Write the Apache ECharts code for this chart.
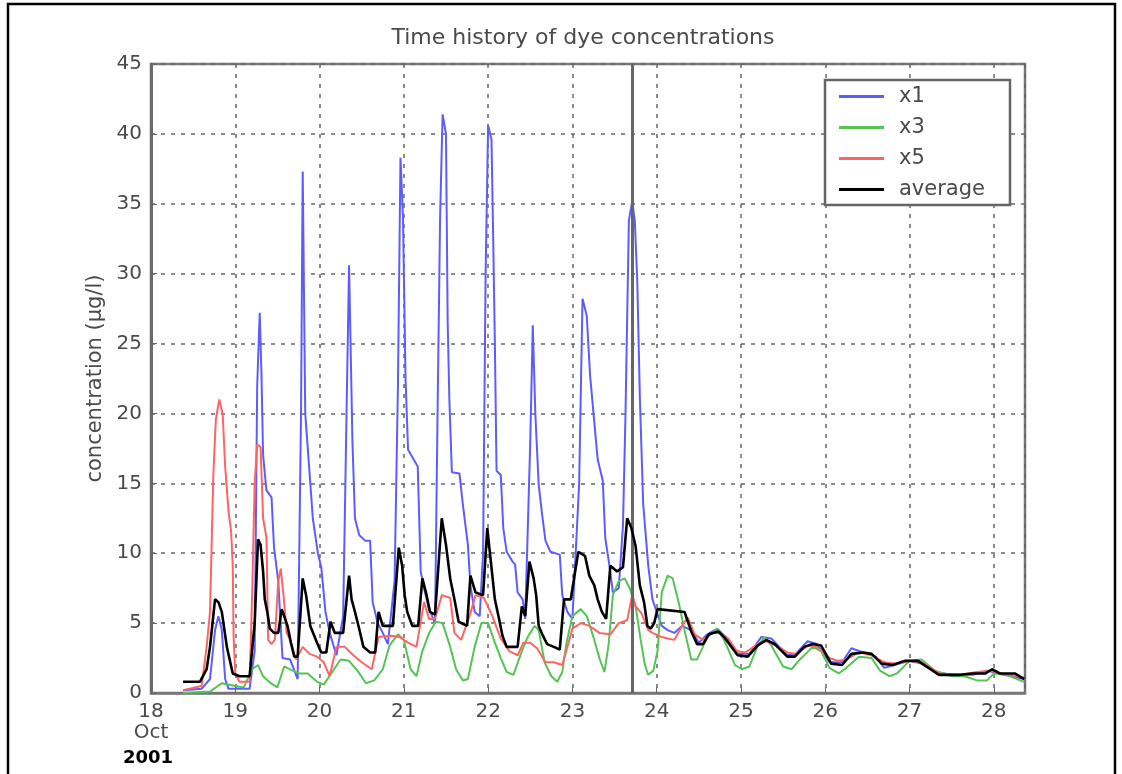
<!DOCTYPE html>
<html>
<head>
<meta charset="utf-8">
<script src="https://cdn.jsdelivr.net/npm/echarts@6/dist/echarts.min.js"></script>
<style>
html,body{margin:0;padding:0;background:#fff;}
#chart{width:1122px;height:774px;}
</style>
</head>
<body>
<div id="chart"></div>
<script>
// ---- data (day of October 2001, concentration µg/l) ----
const titleText = 'Time history of dye concentrations';
const yAxisName = 'concentration (µg/l)';
const seriesNames = ['x1', 'x3', 'x5', 'average'];
const yTicks = [0, 5, 10, 15, 20, 25, 30, 35, 40, 45];
const xTicks = [18, 19, 20, 21, 22, 23, 24, 25, 26, 27, 28];
const markerDay = 23.71;

const x1Time = [18.38,18.60,18.70,18.76,18.80,18.84,18.88,18.92,19.17,19.23,19.26,19.29,19.31,19.33,19.37,19.43,19.46,19.51,19.56,19.65,19.74,19.78,19.80,19.83,19.87,19.92,19.98,20.02,20.07,20.12,20.20,20.28,20.32,20.35,20.39,20.42,20.47,20.54,20.60,20.63,20.69,20.75,20.81,20.89,20.93,20.96,20.99,21.02,21.05,21.165,21.20,21.25,21.30,21.37,21.40,21.43,21.46,21.50,21.52,21.54,21.57,21.66,21.70,21.76,21.79,21.84,21.90,21.94,21.97,22.00,22.04,22.06,22.08,22.10,22.15,22.18,22.22,22.29,22.32,22.35,22.41,22.44,22.50,22.53,22.56,22.60,22.64,22.68,22.74,22.85,22.88,22.94,23.00,23.08,23.12,23.17,23.21,23.30,23.36,23.39,23.44,23.48,23.55,23.60,23.63,23.67,23.71,23.74,23.77,23.80,23.84,23.90,23.95,24.00,24.06,24.13,24.21,24.30,24.41,24.50,24.60,24.72,24.82,24.96,25.10,25.24,25.36,25.55,25.65,25.79,25.90,26.05,26.20,26.31,26.45,26.60,26.70,26.82,27.00,27.14,27.30,27.50,27.75,27.92,28.05,28.36];
const x1Val  = [0.2,0.3,1.0,4.5,5.5,4.5,1.0,0.3,0.3,3,22,27.2,23,17,14.5,14,10.4,8,2.5,2.4,1.0,20,37.3,20,16.7,12.5,10,9,5.8,4.3,2.7,5.5,20,30.6,18,12.5,11.3,10.9,10.9,6.5,5.0,4.3,3.5,8,22,38.3,34,22.5,17.4,16.2,8.7,7.2,6,5,20,34,41.4,40,26.5,21,15.8,15.7,13.5,10.6,7.7,5.8,5.5,10,30,40.6,39.6,32.6,25,15.9,15.6,11.8,10.1,9.4,9.2,7.2,6.7,5.3,18,26.3,20,14.9,12.8,10.9,10.1,9.9,7,5.8,5.3,15,28.2,27,22.7,16.7,15.2,11.1,9.1,7.2,7.5,12,20,33.8,35.2,33.8,29.4,21.2,13.5,9.1,6.7,5.8,4.8,4.5,4.3,4.8,4.5,3.6,4.2,4.6,4.0,2.8,2.8,4.0,3.9,2.7,2.8,3.7,3.5,2.2,2.2,3.2,2.9,2.6,1.8,2.0,2.3,2.1,1.5,1.3,1.3,1.6,1.4,1.0];

const x3Time = [18.38,18.70,18.84,19.00,19.10,19.20,19.27,19.33,19.42,19.50,19.58,19.68,19.76,19.86,19.97,20.05,20.15,20.25,20.35,20.45,20.55,20.65,20.75,20.83,20.93,21.00,21.08,21.15,21.22,21.30,21.38,21.46,21.55,21.62,21.70,21.76,21.84,21.92,22.00,22.08,22.15,22.22,22.30,22.40,22.47,22.55,22.60,22.67,22.75,22.82,22.88,22.93,23.00,23.10,23.17,23.25,23.32,23.38,23.43,23.48,23.55,23.62,23.68,23.75,23.81,23.86,23.90,23.96,24.01,24.06,24.13,24.19,24.26,24.33,24.41,24.48,24.60,24.72,24.80,24.93,25.01,25.10,25.20,25.28,25.36,25.50,25.60,25.70,25.85,25.95,26.05,26.16,26.25,26.40,26.55,26.65,26.76,26.85,27.00,27.14,27.30,27.50,27.65,27.80,27.92,28.00,28.15,28.36];
const x3Val  = [0,0.1,0.7,0.5,0.4,1.7,2.0,1.2,0.7,0.4,1.9,1.6,1.4,1.4,0.8,0.6,1.5,2.4,2.3,1.6,0.7,0.9,1.7,3.4,4.2,3.8,1.7,1.2,3.0,4.3,5.1,5.0,3.3,1.7,0.9,1.0,3.3,5.0,5.0,3.6,2.5,1.5,1.3,3.0,4.0,4.8,4.5,2.2,1.2,0.8,1.5,3.6,5.5,6.0,5.5,4.0,2.5,1.5,3.5,7.0,8.0,8.2,7.5,6.2,3.8,2.0,1.3,1.6,3.0,7.2,8.4,8.2,6.5,4.5,2.4,2.4,4.0,4.6,3.8,2.0,1.7,1.9,3.4,4.0,3.4,1.9,1.7,2.4,3.3,3.0,1.8,1.4,1.8,2.6,2.5,1.6,1.2,1.4,2.3,2.4,1.6,1.2,1.2,0.9,0.9,1.4,1.3,0.8];

const x5Time = [18.38,18.60,18.66,18.70,18.74,18.77,18.81,18.85,18.88,18.92,18.95,18.97,18.98,19.00,19.05,19.17,19.20,19.23,19.26,19.30,19.33,19.37,19.39,19.43,19.47,19.51,19.54,19.58,19.61,19.65,19.72,19.80,19.88,19.97,20.05,20.12,20.20,20.30,20.40,20.50,20.62,20.70,20.85,20.95,21.05,21.15,21.24,21.30,21.37,21.45,21.55,21.60,21.68,21.78,21.85,21.95,22.05,22.15,22.25,22.35,22.42,22.50,22.58,22.68,22.78,22.88,23.00,23.10,23.20,23.32,23.45,23.55,23.65,23.71,23.75,23.82,23.90,23.95,24.06,24.13,24.21,24.30,24.37,24.45,24.55,24.65,24.75,24.85,24.95,25.05,25.20,25.30,25.45,25.55,25.65,25.80,25.90,26.05,26.15,26.25,26.40,26.55,26.70,26.85,27.00,27.15,27.35,27.60,27.80,27.95,28.10,28.36];
const x5Val  = [0.2,0.5,3.3,5.8,15.7,19.6,21.0,20,16.2,13,11.6,9.1,4,1.4,0.8,0.8,7,15,17.8,17.6,12.5,11.1,3.8,3.5,3.8,8.0,8.9,6.5,4.3,3.8,2.4,3.3,2.8,2.6,2.2,1.2,3.3,3.3,2.7,2.2,1.7,4.0,4.1,4.0,3.6,3.3,6.5,5.3,5.3,7.0,6.8,4.3,3.8,5.5,7.0,6.8,5.5,3.9,3.0,2.7,3.6,3.6,3.2,2.2,2.2,2.0,4.6,5.0,4.8,4.3,4.2,5.0,5.2,7.0,6.2,5.7,4.5,4.3,4.0,3.9,3.8,4.8,5.4,4.2,3.8,4.3,4.3,3.9,3.0,2.9,3.5,3.7,3.3,2.9,2.8,3.4,3.3,2.5,2.3,2.4,2.9,2.7,2.2,2.1,2.3,2.2,1.4,1.3,1.5,1.6,1.4,1.1];

const avgTime = [18.38,18.58,18.66,18.70,18.76,18.80,18.84,18.90,18.97,19.05,19.17,19.23,19.27,19.30,19.33,19.35,19.38,19.41,19.46,19.51,19.55,19.58,19.62,19.66,19.70,19.74,19.80,19.84,19.89,19.97,20.02,20.08,20.13,20.18,20.28,20.35,20.38,20.42,20.47,20.52,20.60,20.66,20.70,20.75,20.87,20.94,20.98,21.01,21.04,21.10,21.17,21.22,21.27,21.31,21.37,21.45,21.50,21.55,21.60,21.65,21.75,21.79,21.85,21.94,21.99,22.02,22.08,22.13,22.17,22.22,22.35,22.40,22.44,22.49,22.54,22.57,22.60,22.65,22.70,22.78,22.85,22.90,22.98,23.07,23.15,23.20,23.26,23.30,23.35,23.40,23.45,23.53,23.60,23.65,23.70,23.75,23.80,23.85,23.89,23.93,23.97,24.01,24.33,24.41,24.48,24.55,24.62,24.73,24.80,24.96,25.08,25.20,25.30,25.40,25.55,25.64,25.75,25.85,25.95,26.07,26.20,26.31,26.45,26.55,26.67,26.80,26.94,27.10,27.25,27.35,27.60,27.75,27.90,27.98,28.07,28.25,28.36];
const avgVal  = [0.8,0.8,1.7,3.3,6.7,6.5,5.8,3.3,1.4,1.2,1.2,5,11.0,10.6,8.7,6.7,5.8,4.6,4.3,4.3,6.0,5.5,4.8,3.6,2.6,2.6,8.2,7.0,4.8,3.6,2.9,2.9,5.1,4.3,4.3,8.4,6.7,5.8,4.6,3.3,2.9,2.9,5.8,4.8,4.8,10.4,9.1,7.0,5.8,4.8,4.8,8.2,7.0,5.8,5.6,12.5,10.6,8.2,6.7,5.1,4.8,8.4,7.2,7.0,11.8,10.1,6.7,5.3,4.1,3.3,3.3,6.2,5.5,9.4,8.2,7.0,4.8,4.1,3.5,3.3,3.1,6.7,6.7,10.1,9.8,8.4,7.7,6.7,5.8,5.3,9.1,8.7,9.0,12.5,11.8,10.5,7.7,6.5,4.8,4.6,5.0,6.0,5.8,4.4,3.5,3.5,4.2,4.4,4.0,2.7,2.6,3.4,3.8,3.5,2.6,2.6,3.3,3.5,3.4,2.1,2.0,2.8,2.9,2.8,2.1,2.0,2.3,2.3,1.7,1.3,1.3,1.4,1.4,1.7,1.4,1.4,1.0];

const seriesColors = ['#5c5cff', '#55c455', '#ff6464', '#000000'];

function pairs(t, v) { return t.map((d, i) => [d, v[i]]); }

const chart = echarts.init(document.getElementById('chart'));
const FONT = '"DejaVu Sans", "Liberation Sans", sans-serif';

const dataSets = [pairs(x1Time, x1Val), pairs(x3Time, x3Val), pairs(x5Time, x5Val), pairs(avgTime, avgVal)];

const series = seriesNames.map((name, i) => ({
  name: name,
  type: 'line',
  data: dataSets[i],
  symbol: 'none',
  showSymbol: false,
  animation: false,
  color: seriesColors[i],
  lineStyle: { color: seriesColors[i], width: i === 3 ? 2.6 : 2 },
  z: 2 + i
}));
series[0].markLine = {
  silent: true,
  symbol: 'none',
  label: { show: false },
  lineStyle: { color: '#666', width: 3, type: 'solid' },
  data: [{ xAxis: markerDay }],
  animation: false
};

const option = {
  animation: false,
  backgroundColor: '#ffffff',
  grid: {
    left: 151, right: 97, top: 64, bottom: 81,
    show: true, borderColor: '#777', borderWidth: 2.5, backgroundColor: 'transparent'
  },
  xAxis: {
    type: 'value',
    min: xTicks[0], max: 28.37, interval: 1,
    axisLine: { show: true, lineStyle: { color: '#777', width: 2.5 } },
    axisTick: { show: true, inside: true, length: 6, lineStyle: { color: '#666' } },
    splitLine: { show: true, lineStyle: { color: '#666', width: 1.5, type: [4, 6] } },
    axisLabel: {
      color: '#4a4a4a', fontFamily: FONT, fontSize: 20, margin: 8, lineHeight: 21,
      showMaxLabel: false,
      formatter: function (v) {
        const r = Math.round(v);
        if (Math.abs(v - r) > 1e-6 || xTicks.indexOf(r) < 0) return '';
        return r === 18 ? '18\nOct' : String(r);
      }
    }
  },
  yAxis: {
    type: 'value',
    min: yTicks[0], max: yTicks[yTicks.length - 1], interval: 5,
    name: yAxisName, nameLocation: 'middle', nameGap: 45,
    nameTextStyle: { color: '#4a4a4a', fontFamily: FONT, fontSize: 21 },
    axisLine: { show: true, lineStyle: { color: '#6a6a6a', width: 3 } },
    axisTick: { show: true, inside: true, length: 6, lineStyle: { color: '#666' } },
    splitLine: { show: true, lineStyle: { color: '#666', width: 1.5, type: [4, 6] } },
    axisLabel: { color: '#4a4a4a', fontFamily: FONT, fontSize: 20, margin: 9 }
  },
  legend: {
    orient: 'vertical',
    left: 839, top: 86,
    itemWidth: 45, itemHeight: 20, itemGap: 10,
    padding: 0,
    z: 10,
    textStyle: { color: '#4a4a4a', fontFamily: FONT, fontSize: 21, lineHeight: 20, padding: [0, 0, 0, 10] },
    data: seriesNames.map(n => ({ name: n, icon: 'path://M0,0 L45,0 L45,3 L0,3 Z' }))
  },
  graphic: [
    { type: 'rect', z: 100, zlevel: 0, shape: { x: 8, y: 4, width: 1107, height: 800 },
      style: { fill: 'none', stroke: '#000', lineWidth: 2.5 }, silent: true },
    { type: 'rect', z: 5, shape: { x: 825, y: 80, width: 185, height: 125 },
      style: { fill: '#fff', stroke: '#666', lineWidth: 2.5 }, silent: true },
    { type: 'text', x: 583, y: 38, z: 10,
      style: { text: titleText, fill: '#4a4a4a', font: '22px ' + FONT, textAlign: 'center', textVerticalAlign: 'middle' } },
    { type: 'text', x: 148, y: 758, z: 10,
      style: { text: '2001', fill: '#000', font: 'bold 18px ' + FONT, textAlign: 'center', textVerticalAlign: 'middle' } }
  ],
  series: series
};
chart.setOption(option);
</script>
</body>
</html>
